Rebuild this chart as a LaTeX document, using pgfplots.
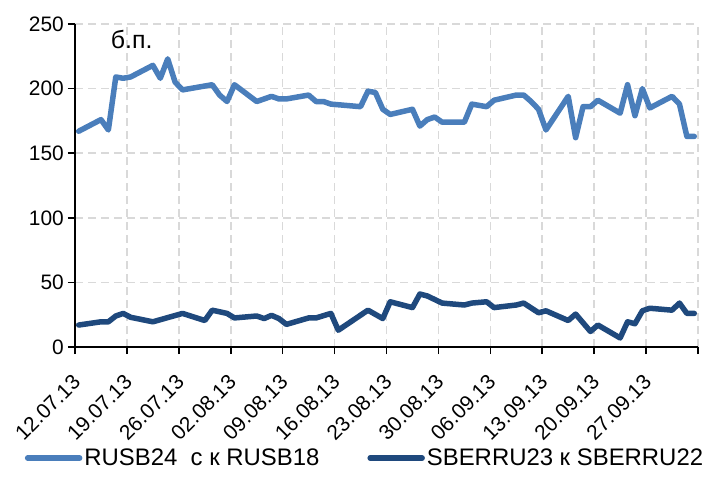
\documentclass[border=0pt]{standalone}
\usepackage{fontspec}
\setmainfont{Liberation Sans}
\usepackage{pgfplots}
\usepackage{pgfplotstable}
\pgfplotsset{compat=1.18}
\definecolor{cA}{RGB}{74,126,187}
\definecolor{cB}{RGB}{31,73,125}
\definecolor{gridc}{RGB}{217,217,217}
\pgfplotstableread{
d v
0 167
3 176
4 168
5 209
6 208
7 209
10 218
11 208
12 223
13 205
14 199
17 202
18 203
19 195
20 190
21 203
24 190
25 192
26 194
27 192
28 192
31 195
32 190
33 190
34 188
38 186
39 198
40 197
41 184
42 180
45 184
46 171
47 176
48 178
49 174
52 174
53 188
54 187
55 186
56 191
59 195
60 195
61 190
62 184
63 168
66 194
67 162
68 186
69 186
70 191
73 181
74 203
75 179
76 200
77 185
80 194
81 188
82 163
83 163
}\tabU
\pgfplotstableread{
d v
0 17
3 19.5
4 19.5
5 24
6 26
7 23
10 19.5
14 26
17 20.5
18 28.5
20 26
21 22.5
24 24
25 22
26 24.5
27 22
28 17.5
31 22.5
32 22.5
34 26
35 13
39 28.5
41 22
42 35
45 30.5
46 41
47 39.5
49 34
52 32.5
53 34
55 35
56 30.5
59 32.5
60 34
62 26.5
63 28
66 20.5
67 25.5
69 12
70 17
73 7
74 19.5
75 18
76 28
77 30
80 28.5
81 34
82 26
83 26
}\tabL
\begin{document}
\begin{tikzpicture}
\path[use as bounding box] (-75bp,-148bp) rectangle (628bp,347bp);
\begin{axis}[
  at={(0,0)}, anchor=south west, scale only axis,
  width=623bp, height=323bp,
  xmin=-0.5, xmax=83.5, ymin=0, ymax=250,
  xtick={-0.5,6.5,13.5,20.5,27.5,34.5,41.5,48.5,55.5,62.5,69.5,76.5,83.5},
  xticklabels={12.07.13,19.07.13,26.07.13,02.08.13,09.08.13,16.08.13,23.08.13,30.08.13,06.09.13,13.09.13,20.09.13,27.09.13,{}},
  ytick={0,50,...,250},
  axis x line*=bottom, axis y line*=left,
  axis line style={black, line width=1.6bp, -},
  tick style={black, line width=1.6bp},
  tick align=outside, major tick length=7bp,
  grid=major,
  major grid style={gridc, line width=1.6bp, dash pattern=on 8bp off 5bp},
  ticklabel style={font=\fontsize{21}{25}\selectfont},
  /pgf/number format/assume math mode=true,
  xticklabel style={yshift=-23bp, xshift=3bp, rotate=45, anchor=east, inner sep=2bp},
  yticklabel style={inner sep=4bp},
  legend style={at={(axis description cs:0.4655,-0.344)}, anchor=center,
    draw=none, fill=none, legend columns=2,
    font=\fontsize{24}{28}\selectfont,
    /tikz/every even column/.append style={column sep=46bp}},
  legend cell align=left,
  legend image code/.code={\draw[#1] (0bp,0bp) -- (52bp,0bp);},
  clip=false,
]
\addplot[cA, line width=5.5bp, line join=round, line cap=round] table[x=d,y=v] {\tabU};
\addlegendentry{RUSB24~~с к RUSB18}
\addplot[cB, line width=5.5bp, line join=round, line cap=round] table[x=d,y=v] {\tabL};
\addlegendentry{SBERRU23 к SBERRU22}
\node[anchor=west, font=\fontsize{25}{29}\selectfont] at (axis description cs:0.052,0.952) {б.п.};
\end{axis}
\end{tikzpicture}
\end{document}
